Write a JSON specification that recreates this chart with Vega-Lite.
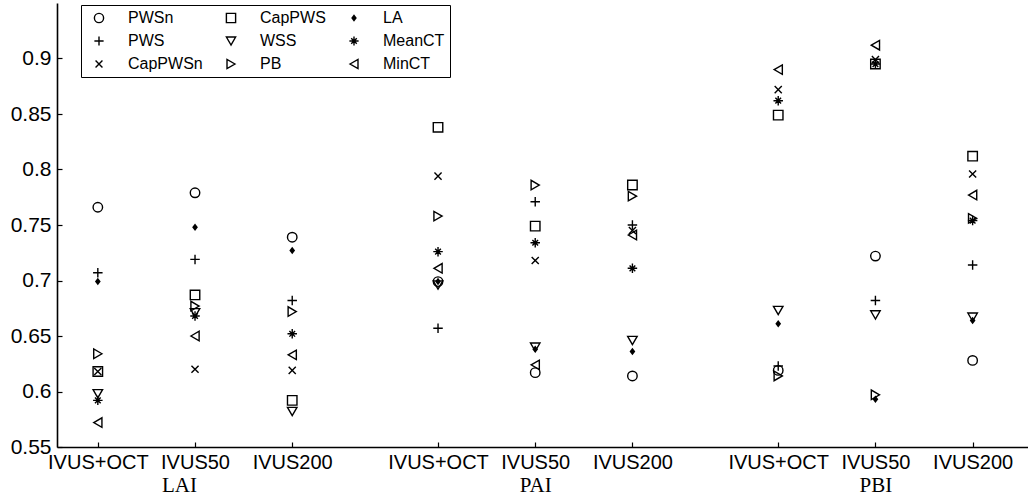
{
  "$schema": "https://vega.github.io/schema/vega-lite/v6.json",
  "width": 972,
  "height": 444,
  "padding": {"left": 10, "top": 3, "right": 0, "bottom": 0},
  "autosize": {"type": "pad"},
  "config": {
    "view": {"stroke": null},
    "font": "Liberation Sans",
    "axis": {"domainColor": "black", "domainWidth": 1.6, "tickColor": "black", "tickWidth": 1.2, "labelColor": "black", "grid": false, "title": null},
    "legend": {
      "title": null,
      "orient": "none",
      "legendX": 24,
      "legendY": 2,
      "columns": 3,
      "gridAlign": "each",
      "columnPadding": 15,
      "rowPadding": 7,
      "labelFontSize": 16,
      "labelColor": "black",
      "labelOffset": 21,
      "symbolOffset": 5,
      "symbolSize": 85,
      "symbolStrokeWidth": 1.4,
      "symbolStrokeColor": "black",
      "symbolFillColor": "transparent",
      "strokeColor": "black",
      "padding": 5,
      "fillColor": "white"
    }
  },
  "data": {
    "values": [
      {"category": "LAI|IVUS+OCT", "series": "PWSn", "value": 0.766},
      {"category": "LAI|IVUS+OCT", "series": "PWS", "value": 0.707},
      {"category": "LAI|IVUS+OCT", "series": "CapPWSn", "value": 0.618},
      {"category": "LAI|IVUS+OCT", "series": "CapPWS", "value": 0.618},
      {"category": "LAI|IVUS+OCT", "series": "WSS", "value": 0.598},
      {"category": "LAI|IVUS+OCT", "series": "PB", "value": 0.634},
      {"category": "LAI|IVUS+OCT", "series": "LA", "value": 0.699},
      {"category": "LAI|IVUS+OCT", "series": "MeanCT", "value": 0.592},
      {"category": "LAI|IVUS+OCT", "series": "MinCT", "value": 0.572},
      {"category": "LAI|IVUS50", "series": "PWSn", "value": 0.779},
      {"category": "LAI|IVUS50", "series": "PWS", "value": 0.719},
      {"category": "LAI|IVUS50", "series": "CapPWSn", "value": 0.620},
      {"category": "LAI|IVUS50", "series": "CapPWS", "value": 0.687},
      {"category": "LAI|IVUS50", "series": "WSS", "value": 0.671},
      {"category": "LAI|IVUS50", "series": "PB", "value": 0.677},
      {"category": "LAI|IVUS50", "series": "LA", "value": 0.748},
      {"category": "LAI|IVUS50", "series": "MeanCT", "value": 0.668},
      {"category": "LAI|IVUS50", "series": "MinCT", "value": 0.650},
      {"category": "LAI|IVUS200", "series": "PWSn", "value": 0.739},
      {"category": "LAI|IVUS200", "series": "PWS", "value": 0.682},
      {"category": "LAI|IVUS200", "series": "CapPWSn", "value": 0.619},
      {"category": "LAI|IVUS200", "series": "CapPWS", "value": 0.592},
      {"category": "LAI|IVUS200", "series": "WSS", "value": 0.582},
      {"category": "LAI|IVUS200", "series": "PB", "value": 0.672},
      {"category": "LAI|IVUS200", "series": "LA", "value": 0.727},
      {"category": "LAI|IVUS200", "series": "MeanCT", "value": 0.652},
      {"category": "LAI|IVUS200", "series": "MinCT", "value": 0.633},
      {"category": "PAI|IVUS+OCT", "series": "PWSn", "value": 0.699},
      {"category": "PAI|IVUS+OCT", "series": "PWS", "value": 0.657},
      {"category": "PAI|IVUS+OCT", "series": "CapPWSn", "value": 0.794},
      {"category": "PAI|IVUS+OCT", "series": "CapPWS", "value": 0.838},
      {"category": "PAI|IVUS+OCT", "series": "WSS", "value": 0.696},
      {"category": "PAI|IVUS+OCT", "series": "PB", "value": 0.758},
      {"category": "PAI|IVUS+OCT", "series": "LA", "value": 0.699},
      {"category": "PAI|IVUS+OCT", "series": "MeanCT", "value": 0.726},
      {"category": "PAI|IVUS+OCT", "series": "MinCT", "value": 0.711},
      {"category": "PAI|IVUS50", "series": "PWSn", "value": 0.617},
      {"category": "PAI|IVUS50", "series": "PWS", "value": 0.771},
      {"category": "PAI|IVUS50", "series": "CapPWSn", "value": 0.718},
      {"category": "PAI|IVUS50", "series": "CapPWS", "value": 0.749},
      {"category": "PAI|IVUS50", "series": "WSS", "value": 0.640},
      {"category": "PAI|IVUS50", "series": "PB", "value": 0.786},
      {"category": "PAI|IVUS50", "series": "LA", "value": 0.638},
      {"category": "PAI|IVUS50", "series": "MeanCT", "value": 0.734},
      {"category": "PAI|IVUS50", "series": "MinCT", "value": 0.624},
      {"category": "PAI|IVUS200", "series": "PWSn", "value": 0.614},
      {"category": "PAI|IVUS200", "series": "PWS", "value": 0.750},
      {"category": "PAI|IVUS200", "series": "CapPWSn", "value": 0.745},
      {"category": "PAI|IVUS200", "series": "CapPWS", "value": 0.786},
      {"category": "PAI|IVUS200", "series": "WSS", "value": 0.646},
      {"category": "PAI|IVUS200", "series": "PB", "value": 0.776},
      {"category": "PAI|IVUS200", "series": "LA", "value": 0.636},
      {"category": "PAI|IVUS200", "series": "MeanCT", "value": 0.711},
      {"category": "PAI|IVUS200", "series": "MinCT", "value": 0.741},
      {"category": "PBI|IVUS+OCT", "series": "PWSn", "value": 0.619},
      {"category": "PBI|IVUS+OCT", "series": "PWS", "value": 0.623},
      {"category": "PBI|IVUS+OCT", "series": "CapPWSn", "value": 0.872},
      {"category": "PBI|IVUS+OCT", "series": "CapPWS", "value": 0.849},
      {"category": "PBI|IVUS+OCT", "series": "WSS", "value": 0.673},
      {"category": "PBI|IVUS+OCT", "series": "PB", "value": 0.614},
      {"category": "PBI|IVUS+OCT", "series": "LA", "value": 0.661},
      {"category": "PBI|IVUS+OCT", "series": "MeanCT", "value": 0.862},
      {"category": "PBI|IVUS+OCT", "series": "MinCT", "value": 0.890},
      {"category": "PBI|IVUS50", "series": "PWSn", "value": 0.722},
      {"category": "PBI|IVUS50", "series": "PWS", "value": 0.682},
      {"category": "PBI|IVUS50", "series": "CapPWSn", "value": 0.899},
      {"category": "PBI|IVUS50", "series": "CapPWS", "value": 0.895},
      {"category": "PBI|IVUS50", "series": "WSS", "value": 0.669},
      {"category": "PBI|IVUS50", "series": "PB", "value": 0.597},
      {"category": "PBI|IVUS50", "series": "LA", "value": 0.593},
      {"category": "PBI|IVUS50", "series": "MeanCT", "value": 0.895},
      {"category": "PBI|IVUS50", "series": "MinCT", "value": 0.912},
      {"category": "PBI|IVUS200", "series": "PWSn", "value": 0.628},
      {"category": "PBI|IVUS200", "series": "PWS", "value": 0.714},
      {"category": "PBI|IVUS200", "series": "CapPWSn", "value": 0.796},
      {"category": "PBI|IVUS200", "series": "CapPWS", "value": 0.812},
      {"category": "PBI|IVUS200", "series": "WSS", "value": 0.667},
      {"category": "PBI|IVUS200", "series": "PB", "value": 0.756},
      {"category": "PBI|IVUS200", "series": "LA", "value": 0.664},
      {"category": "PBI|IVUS200", "series": "MeanCT", "value": 0.754},
      {"category": "PBI|IVUS200", "series": "MinCT", "value": 0.777}
    ]
  },
  "encoding": {
    "y": {
      "field": "value",
      "type": "quantitative",
      "scale": {"domain": [0.55, 0.95], "nice": false, "zero": false},
      "axis": {"values": [0.55, 0.6, 0.65, 0.7, 0.75, 0.8, 0.85, 0.9], "format": ".2~f", "labelFontSize": 21, "tickSize": -5, "labelPadding": 11}
    }
  },
  "layer": [
    {
      "mark": {"type": "point", "filled": false, "color": "black", "stroke": "black", "strokeWidth": 1.4, "size": 90, "opacity": 1},
      "encoding": {
        "x": {
          "field": "category",
          "type": "nominal",
          "sort": null,
          "scale": {
            "type": "point",
            "domain": ["LAI|IVUS+OCT", "s1", "LAI|IVUS50", "s2", "LAI|IVUS200", "s3", "s4", "PAI|IVUS+OCT", "s5", "PAI|IVUS50", "s6", "PAI|IVUS200", "s7", "s8", "PBI|IVUS+OCT", "s9", "PBI|IVUS50", "s10", "PBI|IVUS200"],
            "padding": 1.167,
            "align": 0.42
          },
          "axis": {
            "orient": "bottom",
            "values": ["LAI|IVUS+OCT", "LAI|IVUS50", "LAI|IVUS200", "PAI|IVUS+OCT", "PAI|IVUS50", "PAI|IVUS200", "PBI|IVUS+OCT", "PBI|IVUS50", "PBI|IVUS200"],
            "labelExpr": "split(datum.value, '|')[1]",
            "labelAngle": 0,
            "labelFontSize": 20,
            "tickSize": -5,
            "labelPadding": 10
          }
        },
        "shape": {
          "field": "series",
          "type": "nominal",
          "scale": {
            "domain": ["PWSn", "PWS", "CapPWSn", "CapPWS", "WSS", "PB", "LA", "MeanCT", "MinCT"],
            "range": ["circle", "M-1,0H1M0,-1V1", "M-0.75,-0.75L0.75,0.75M-0.75,0.75L0.75,-0.75", "square", "triangle-down", "triangle-right", "M0,-0.55L0.42,0L0,0.55L-0.42,0ZM0,-0.3L0.22,0L0,0.3L-0.22,0ZM0,-0.5V0.5M-0.35,0H0.35", "M-1,0H1M0,-1V1M-0.6,-0.6L0.6,0.6M-0.6,0.6L0.6,-0.6M-0.3,-0.15H0.3M-0.3,0.15H0.3M-0.15,-0.3V0.3M0.15,-0.3V0.3", "triangle-left"]
          }
        }
      }
    },
    {
      "mark": {"type": "point", "opacity": 0},
      "encoding": {
        "x": {
          "field": "category",
          "type": "nominal",
          "sort": null,
          "axis": {
            "orient": "bottom",
            "offset": 27,
            "values": ["LAI|IVUS50", "PAI|IVUS50", "PBI|IVUS50"],
            "labelExpr": "split(datum.value, '|')[0]",
            "labelAngle": 0,
            "labelFont": "Liberation Serif",
            "labelFontSize": 21,
            "labelOffset": {"condition": {"test": "datum.value == 'LAI|IVUS50'", "value": -16}, "value": 0},
            "domain": false,
            "ticks": false,
            "tickSize": 0,
            "labelPadding": 0
          }
        }
      }
    }
  ],
  "resolve": {"axis": {"x": "independent"}}
}
